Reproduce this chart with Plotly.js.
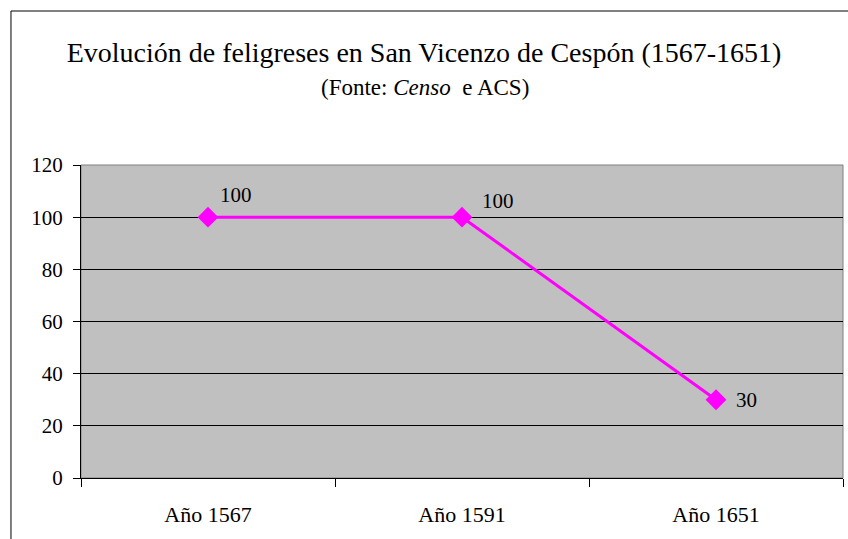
<!DOCTYPE html>
<html>
<head>
<meta charset="utf-8">
<script src="https://cdn.plot.ly/plotly-3.0.1.min.js"></script>
<style>html,body{margin:0;padding:0;background:#fff;} #chart{width:848px;height:539px;}</style>
</head>
<body>
<div id="chart"></div>
<script>
const categories = ["Año 1567", "Año 1591", "Año 1651"];
const values = [100, 100, 30];
const labelShiftX = [28, 36, 30];
const labelShiftY = [22, 16, 0];

const serifFamily = "Liberation Serif";

const trace = {
  x: categories,
  y: values,
  type: "scatter",
  mode: "lines+markers",
  line: {color: "#FF00FF", width: 3},
  marker: {symbol: "diamond", size: 16, color: "#FF00FF"},
  hoverinfo: "skip",
  cliponaxis: false
};

const annotations = values.map((v, i) => ({
  x: categories[i], y: v, xref: "x", yref: "y",
  text: String(v), showarrow: false,
  xshift: labelShiftX[i], yshift: labelShiftY[i],
  font: {family: serifFamily, size: 21, color: "#000"}
}));
annotations.push({
  text: "(Fonte: <i>Censo</i>  e ACS)", showarrow: false,
  xref: "paper", yref: "paper", x: 0.451, y: 1.249,
  xanchor: "center", yanchor: "middle",
  font: {family: serifFamily, size: 23, color: "#000"}
});

const layout = {
  width: 848, height: 539,
  margin: {l: 81, r: 5, t: 165, b: 61},
  paper_bgcolor: "#ffffff",
  plot_bgcolor: "#C0C0C0",
  showlegend: false,
  font: {family: serifFamily, color: "#000"},
  title: {
    text: "Evolución de feligreses en San Vicenzo de Cespón (1567-1651)",
    font: {family: serifFamily, size: 28, color: "#000"},
    x: 0.5, xref: "container", xanchor: "center",
    y: 0.903, yref: "container", yanchor: "middle"
  },
  xaxis: {
    type: "category",
    range: [-0.5, 2.5],
    tickson: "boundaries",
    ticks: "outside", ticklen: 8, tickcolor: "#000", tickwidth: 1,
    ticklabelstandoff: 17,
    showgrid: false, zeroline: false,
    showline: true, linecolor: "#000", linewidth: 1,
    tickfont: {family: serifFamily, size: 22, color: "#000"},
    fixedrange: true
  },
  yaxis: {
    range: [0, 120], dtick: 20, tick0: 0,
    ticks: "outside", ticklen: 7, tickcolor: "#000", tickwidth: 1,
    ticklabelstandoff: 6,
    showgrid: true, gridcolor: "#000", gridwidth: 1,
    zeroline: false,
    showline: true, linecolor: "#000", linewidth: 1,
    tickfont: {family: serifFamily, size: 21, color: "#000"},
    fixedrange: true
  },
  shapes: [
    {type: "rect", xref: "paper", yref: "paper", x0: 0, x1: 1, y0: 0, y1: 1,
     line: {color: "#808080", width: 1}, fillcolor: "rgba(0,0,0,0)", layer: "below"},
    {type: "rect", xref: "paper", yref: "paper", x0: -0.0919, x1: 1.5, y0: -1, y1: 1.492,
     line: {color: "#000", width: 1}, fillcolor: "rgba(0,0,0,0)", layer: "above"}
  ],
  annotations: annotations
};

Plotly.newPlot("chart", [trace], layout, {displayModeBar: false, staticPlot: true});
</script>
</body>
</html>
